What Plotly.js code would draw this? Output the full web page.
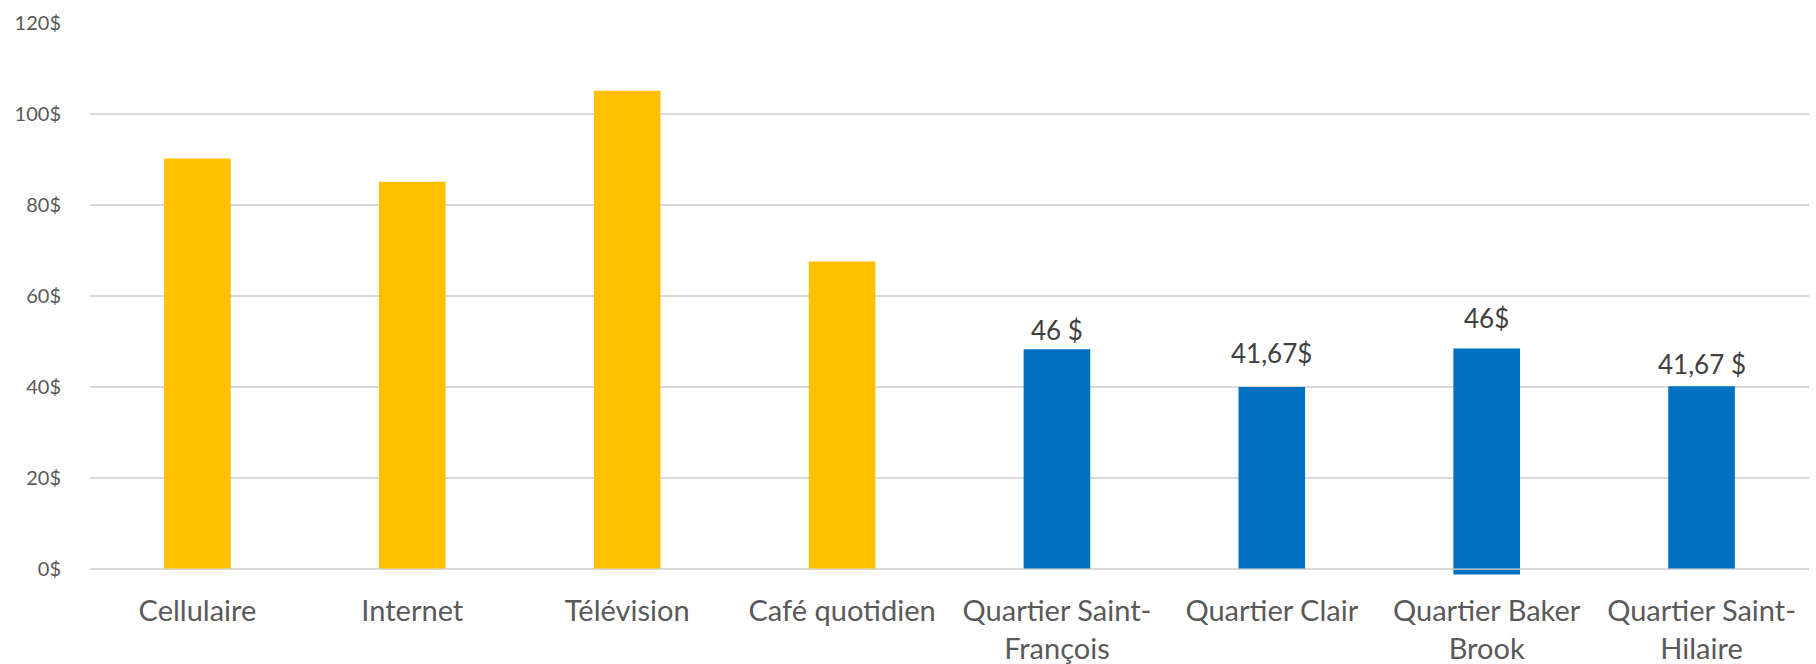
<!DOCTYPE html>
<html>
<head>
<meta charset="utf-8">
<script src="https://cdn.plot.ly/plotly-3.0.1.min.js"></script>
<style>html,body{margin:0;padding:0;background:#fff;}#chart{width:1816px;height:664px;}</style>
</head>
<body>
<div id="chart"></div>
<script>
const categories = ["Cellulaire", "Internet", "Télévision", "Café quotidien", "Quartier Saint-<br>François", "Quartier Clair", "Quartier Baker<br>Brook", "Quartier Saint-<br>Hilaire"];
const values = [90.2, 85.1, 105.1, 67.6, 48.3, 40.0, 48.5, 40.2];
const bases = [0, 0, 0, 0, 0, 0, -1.2, 0];
const barColors = ["#FFC000", "#FFC000", "#FFC000", "#FFC000", "#0070C0", "#0070C0", "#0070C0", "#0070C0"];
const dataLabels = ["", "", "", "", "46 $", "41,67$", "46$", "41,67 $"];
const tickVals = [0, 20, 40, 60, 80, 100, 120];
const tickLabels = ["0$", "20$", "40$", "60$", "80$", "100$", "120$"];

const trace = {
  type: "bar",
  x: categories,
  y: values.map((v, i) => v - bases[i]),
  base: bases,
  marker: {color: barColors},
  width: 0.31,
  hoverinfo: "none"
};

// label offsets above bar tops (pixels), as manually placed in the original
const labelLift = [0, 0, 0, 0, 1, 16, 12, 4];
const annotations = [];
categories.forEach((c, i) => {
  if (!dataLabels[i]) return;
  annotations.push({
    x: c, y: values[i], xref: "x", yref: "y",
    text: dataLabels[i], showarrow: false,
    yanchor: "bottom", xanchor: "center",
    yshift: labelLift[i],
    font: {family: "Lato, 'Open Sans', sans-serif", size: 26, color: "#404040"}
  });
});

const layout = {
  width: 1816, height: 664,
  margin: {l: 90, r: 7, t: 23, b: 89},
  paper_bgcolor: "#fff", plot_bgcolor: "#fff",
  showlegend: false,
  font: {family: "Lato, 'Open Sans', sans-serif", color: "#595959"},
  xaxis: {
    type: "category",
    showgrid: false, showline: false, zeroline: false,
    ticks: "outside", ticklen: 10, tickcolor: "rgba(0,0,0,0)",
    tickfont: {size: 29, color: "#595959"},
    tickangle: 0
  },
  yaxis: {
    range: [-1.3, 120],
    tickvals: tickVals, ticktext: tickLabels,
    showgrid: true, gridcolor: "#d9d9d9", gridwidth: 1.3,
    zeroline: false, showline: false,
    ticks: "outside", ticklen: 24, tickcolor: "rgba(0,0,0,0)",
    tickfont: {size: 20, color: "#595959"}
  },
  annotations: annotations,
  shapes: [{type: "line", xref: "paper", yref: "y", x0: 0, x1: 1, y0: 0, y1: 0, layer: "above", line: {color: "#d9d9d9", width: 1.3}}]
};

Plotly.newPlot("chart", [trace], layout, {displayModeBar: false, staticPlot: true});
</script>
</body>
</html>
